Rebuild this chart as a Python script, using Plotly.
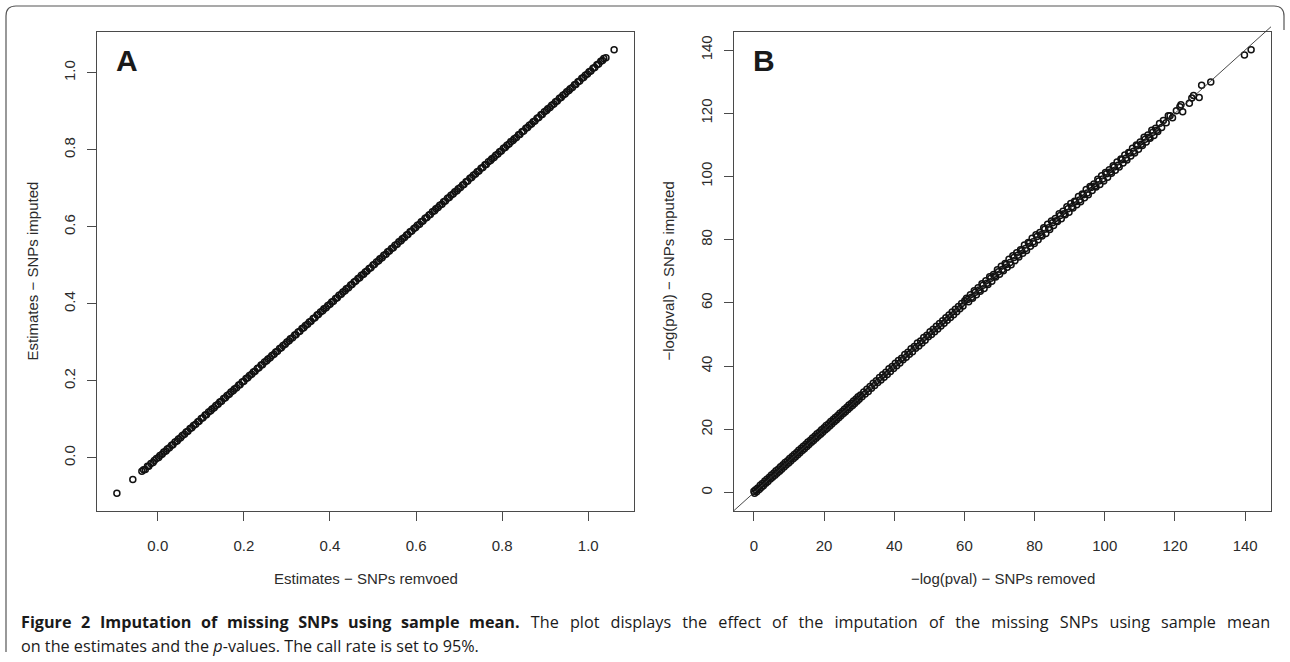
import plotly.graph_objects as go

W, H = 1290, 662

# ---------------- Data: panel A (estimates) ----------------
a_removed = [
    -0.095, -0.058, -0.037, -0.033, -0.029, -0.024, -0.021, -0.016, -0.011, -0.008,
    -0.003, 0.002, 0.005, 0.010, 0.014, 0.019, 0.022, 0.027, 0.032, 0.035,
    0.040, 0.045, 0.048, 0.053, 0.057, 0.062, 0.066, 0.070, 0.075, 0.079,
    0.083, 0.088, 0.093, 0.096, 0.101, 0.105, 0.110, 0.113, 0.118, 0.123,
    0.126, 0.131, 0.135, 0.140, 0.144, 0.148, 0.153, 0.157, 0.161, 0.166,
    0.170, 0.175, 0.178, 0.183, 0.188, 0.191, 0.196, 0.200, 0.205, 0.209,
    0.213, 0.218, 0.222, 0.226, 0.231, 0.235, 0.240, 0.243, 0.248, 0.253,
    0.256, 0.261, 0.265, 0.270, 0.274, 0.278, 0.283, 0.287, 0.291, 0.296,
    0.300, 0.305, 0.308, 0.313, 0.318, 0.321, 0.326, 0.330, 0.335, 0.339,
    0.343, 0.348, 0.352, 0.356, 0.361, 0.365, 0.370, 0.373, 0.378, 0.383,
    0.386, 0.391, 0.395, 0.400, 0.404, 0.408, 0.413, 0.417, 0.421, 0.426,
    0.430, 0.435, 0.438, 0.443, 0.448, 0.451, 0.456, 0.460, 0.465, 0.469,
    0.473, 0.478, 0.482, 0.486, 0.491, 0.495, 0.500, 0.503, 0.508, 0.513,
    0.516, 0.521, 0.525, 0.530, 0.534, 0.538, 0.543, 0.547, 0.551, 0.556,
    0.560, 0.565, 0.568, 0.573, 0.578, 0.581, 0.586, 0.590, 0.595, 0.599,
    0.603, 0.608, 0.612, 0.616, 0.621, 0.625, 0.630, 0.633, 0.638, 0.643,
    0.646, 0.651, 0.655, 0.660, 0.664, 0.668, 0.673, 0.677, 0.681, 0.686,
    0.690, 0.695, 0.698, 0.703, 0.708, 0.711, 0.716, 0.720, 0.725, 0.729,
    0.733, 0.738, 0.742, 0.746, 0.751, 0.755, 0.760, 0.763, 0.768, 0.773,
    0.776, 0.781, 0.785, 0.790, 0.794, 0.798, 0.803, 0.807, 0.811, 0.816,
    0.820, 0.825, 0.828, 0.833, 0.838, 0.841, 0.846, 0.850, 0.855, 0.859,
    0.863, 0.868, 0.872, 0.876, 0.881, 0.885, 0.890, 0.893, 0.898, 0.903,
    0.906, 0.911, 0.915, 0.920, 0.924, 0.928, 0.933, 0.937, 0.941, 0.946,
    0.950, 0.955, 0.958, 0.963, 0.968, 0.971, 0.976, 0.980, 0.985, 0.989,
    0.993, 0.998, 1.002, 1.006, 1.011, 1.015, 1.020, 1.024, 1.029, 1.033,
    1.036, 1.041, 1.060,
]
a_imputed = [
    -0.092, -0.056, -0.035, -0.031, -0.030, -0.022, -0.022, -0.015, -0.012, -0.007,
    -0.002, 0.001, 0.006, 0.009, 0.015, 0.018, 0.023, 0.026, 0.033, 0.034,
    0.041, 0.044, 0.049, 0.052, 0.058, 0.061, 0.067, 0.069, 0.076, 0.078,
    0.084, 0.087, 0.094, 0.095, 0.102, 0.104, 0.111, 0.112, 0.119, 0.122,
    0.127, 0.130, 0.136, 0.139, 0.145, 0.147, 0.154, 0.156, 0.162, 0.165,
    0.171, 0.174, 0.179, 0.182, 0.189, 0.190, 0.197, 0.199, 0.206, 0.208,
    0.214, 0.217, 0.223, 0.225, 0.232, 0.234, 0.241, 0.242, 0.249, 0.252,
    0.257, 0.260, 0.266, 0.269, 0.275, 0.277, 0.284, 0.286, 0.292, 0.295,
    0.301, 0.304, 0.309, 0.312, 0.319, 0.320, 0.327, 0.329, 0.336, 0.338,
    0.344, 0.347, 0.353, 0.355, 0.362, 0.364, 0.371, 0.372, 0.379, 0.382,
    0.387, 0.390, 0.396, 0.399, 0.405, 0.407, 0.414, 0.416, 0.422, 0.425,
    0.431, 0.434, 0.439, 0.442, 0.449, 0.450, 0.457, 0.459, 0.466, 0.468,
    0.474, 0.477, 0.483, 0.485, 0.492, 0.494, 0.501, 0.502, 0.509, 0.512,
    0.517, 0.520, 0.526, 0.529, 0.535, 0.537, 0.544, 0.546, 0.552, 0.555,
    0.561, 0.564, 0.569, 0.572, 0.579, 0.580, 0.587, 0.589, 0.596, 0.598,
    0.604, 0.607, 0.613, 0.615, 0.622, 0.624, 0.631, 0.632, 0.639, 0.642,
    0.647, 0.650, 0.656, 0.659, 0.665, 0.667, 0.674, 0.676, 0.682, 0.685,
    0.691, 0.694, 0.699, 0.702, 0.709, 0.710, 0.717, 0.719, 0.726, 0.728,
    0.734, 0.737, 0.743, 0.745, 0.752, 0.754, 0.761, 0.762, 0.769, 0.772,
    0.777, 0.780, 0.786, 0.789, 0.795, 0.797, 0.804, 0.806, 0.812, 0.815,
    0.821, 0.824, 0.829, 0.832, 0.839, 0.840, 0.847, 0.849, 0.856, 0.858,
    0.864, 0.867, 0.873, 0.875, 0.882, 0.884, 0.891, 0.892, 0.899, 0.902,
    0.907, 0.910, 0.916, 0.919, 0.925, 0.927, 0.934, 0.936, 0.942, 0.945,
    0.951, 0.954, 0.959, 0.962, 0.969, 0.970, 0.977, 0.979, 0.986, 0.988,
    0.994, 0.997, 1.003, 1.005, 1.012, 1.014, 1.021, 1.023, 1.030, 1.032,
    1.037, 1.039, 1.060,
]

# ---------------- Data: panel B (-log p-values) ----------------
b_removed = [
    0.0, 0.2, 0.5, 0.8, 1.1, 1.5, 1.8, 2.1, 2.4, 2.7,
    3.1, 3.4, 3.7, 4.0, 4.4, 4.7, 5.0, 5.3, 5.7, 6.0,
    6.3, 6.6, 7.0, 7.3, 7.6, 7.9, 8.3, 8.6, 8.9, 9.2,
    9.6, 9.9, 10.2, 10.5, 10.9, 11.2, 11.5, 11.8, 12.2, 12.5,
    12.8, 13.1, 13.5, 13.8, 14.1, 14.4, 14.8, 15.1, 15.4, 15.7,
    16.1, 16.4, 16.7, 17.0, 17.4, 17.7, 18.0, 18.3, 18.7, 19.0,
    19.3, 19.6, 20.0, 20.3, 20.6, 20.9, 21.3, 21.6, 21.9, 22.2,
    22.6, 22.9, 23.2, 23.5, 23.9, 24.2, 24.5, 24.8, 25.2, 25.5,
    25.8, 26.1, 26.5, 26.8, 27.1, 27.4, 27.8, 28.1, 28.4, 28.7,
    29.1, 29.4, 29.7, 30.0,
    30.4, 30.8, 31.3, 31.7, 32.2, 32.6, 33.1, 33.5, 34.0, 34.4,
    34.9, 35.3, 35.8, 36.2, 36.7, 37.1, 37.6, 38.0, 38.5, 38.9,
    39.4, 39.8, 40.3, 40.7, 41.2, 41.6, 42.1, 42.5, 43.0, 43.4,
    43.9, 44.3, 44.8, 45.2, 45.7, 46.1, 46.6, 47.0, 47.5, 47.9,
    48.4, 48.8, 49.3, 49.7, 50.2, 50.6, 51.1, 51.5, 52.0, 52.4,
    52.9, 53.3, 53.8, 54.2, 54.7, 55.1, 55.6, 56.0, 56.5, 56.9,
    57.4, 57.8, 58.3, 58.7, 59.2, 59.6, 60.1,
    60.6, 61.2, 61.7, 62.3, 62.8, 63.4, 63.9, 64.5, 65.0, 65.6,
    66.1, 66.7, 67.2, 67.8, 68.3, 68.9, 69.4, 70.0, 70.5, 71.1,
    71.6, 72.2, 72.7, 73.3, 73.8, 74.4, 74.9, 75.5, 76.0, 76.6,
    77.1, 77.7, 78.2, 78.8, 79.3, 79.9, 80.4, 81.0, 81.5, 82.1,
    82.6, 83.2, 83.7, 84.3, 84.8, 85.4, 85.9, 86.5, 87.0, 87.6,
    88.1, 88.7, 89.2, 89.8, 90.3, 90.9, 91.4, 92.0, 92.5, 93.1,
    93.6, 94.2, 94.7, 95.3, 95.8, 96.4, 96.9, 97.5, 98.0, 98.6,
    99.1, 99.7, 100.2, 100.8, 101.3, 101.9, 102.4, 103.0, 103.5, 104.1,
    104.6, 105.2, 105.7, 106.3, 106.8, 107.4, 107.9, 108.5, 109.0, 109.6,
    110.1, 110.7, 111.2, 111.8, 112.3, 112.9, 113.4, 114.0, 114.5, 115.1,
    115.6, 116.2,
    116.7, 117.5, 118.1, 118.6, 119.3, 120.4, 121.4, 121.7, 122.2, 124.1,
    124.8, 125.3, 126.9, 127.6, 130.2, 139.8, 141.7,
    60.9, 62.0, 63.1, 64.2, 65.3, 66.4, 67.5, 68.6, 69.7, 70.8,
    71.9, 73.0, 74.1, 75.2, 76.3, 77.4, 78.5, 79.6, 80.7, 81.8,
    82.9, 84.0, 85.1, 86.2, 87.3, 88.4, 89.5, 90.6, 91.7, 92.8,
    93.9, 95.0, 96.1, 97.2, 98.3, 99.4, 100.5, 101.6, 102.7, 103.8,
    104.9, 106.0, 107.1, 108.2, 109.3, 110.4, 111.5, 112.6, 113.7, 114.8,
]
b_imputed = [
    0.4, -0.2, 0.9, 0.3, 1.5, 1.0, 2.3, 1.6, 2.9, 2.2,
    3.6, 3.0, 4.2, 3.5, 4.9, 4.3, 5.6, 4.9, 6.2, 5.5,
    6.9, 6.1, 7.5, 6.8, 8.2, 7.4, 8.8, 8.1, 9.5, 8.7,
    10.1, 9.4, 10.8, 10.0, 11.4, 10.7, 12.1, 11.3, 12.7, 12.0,
    13.4, 12.6, 14.0, 13.3, 14.7, 13.9, 15.3, 14.6, 16.0, 15.2,
    16.6, 15.9, 17.3, 16.5, 17.9, 17.2, 18.6, 17.8, 19.2, 18.5,
    19.9, 19.1, 20.5, 19.8, 21.2, 20.4, 21.8, 21.1, 22.5, 21.7,
    23.1, 22.4, 23.8, 23.0, 24.4, 23.7, 25.1, 24.3, 25.7, 25.0,
    26.4, 25.6, 27.0, 26.3, 27.7, 26.9, 28.3, 27.6, 29.0, 28.2,
    29.6, 28.9, 30.3, 29.5,
    30.9, 30.3, 31.8, 31.2, 32.7, 32.0, 33.6, 33.0, 34.6, 33.9,
    35.4, 34.8, 36.4, 35.6, 37.3, 36.5, 38.1, 37.4, 39.2, 38.3,
    39.9, 39.3, 40.9, 40.1, 41.8, 41.0, 42.5, 42.0, 43.7, 42.8,
    44.4, 43.8, 45.5, 44.6, 46.2, 45.7, 47.3, 46.4, 48.0, 47.3,
    49.1, 48.2, 49.8, 49.3, 50.9, 50.0, 51.7, 50.9, 52.6, 51.8,
    53.5, 52.7, 54.4, 53.6, 55.3, 54.5, 56.2, 55.4, 57.1, 56.3,
    58.0, 57.2, 58.9, 58.2, 59.8, 59.0, 60.7,
    61.5, 60.4, 62.6, 61.5, 63.9, 62.6, 64.8, 63.7, 66.1, 64.6,
    67.0, 65.8, 68.3, 66.9, 69.0, 68.2, 70.5, 69.1, 71.6, 70.2,
    72.5, 71.3, 73.8, 72.1, 74.9, 73.4, 75.9, 74.5, 76.8, 75.7,
    78.3, 76.6, 79.1, 77.9, 80.5, 78.8, 81.6, 80.0, 82.3, 81.2,
    83.8, 82.0, 84.9, 83.2, 85.9, 84.5, 86.7, 85.8, 88.2, 86.6,
    89.0, 87.9, 90.4, 88.7, 91.5, 90.0, 92.2, 91.1, 93.7, 92.0,
    94.5, 93.3, 95.9, 94.2, 96.8, 95.6, 97.6, 96.7, 99.1, 97.5,
    100.2, 98.6, 101.3, 99.8, 102.1, 101.0, 103.4, 102.0, 104.6, 103.0,
    105.5, 104.3, 106.8, 105.2, 107.6, 106.5, 108.9, 107.4, 110.0, 108.6,
    110.9, 109.8, 112.4, 110.9, 113.1, 112.1, 114.6, 113.0, 115.3, 114.2,
    116.8, 115.5,
    117.7, 117.0, 119.2, 119.2, 118.6, 120.8, 122.1, 122.7, 120.5, 123.2,
    124.8, 125.6, 125.0, 128.9, 129.9, 138.4, 140.1,
    61.1, 61.8, 63.4, 64.1, 65.6, 66.2, 67.8, 68.5, 69.9, 70.6,
    72.2, 72.8, 74.4, 75.1, 76.5, 77.2, 78.9, 79.4, 81.0, 81.6,
    83.3, 83.8, 85.4, 86.0, 87.7, 88.2, 89.8, 90.4, 92.0, 92.6,
    94.2, 94.8, 96.5, 97.0, 98.6, 99.2, 100.9, 101.4, 103.0, 103.6,
    105.3, 105.8, 107.4, 108.0, 109.7, 110.2, 111.8, 112.4, 114.0, 114.6,
]

a_ticks = [0.0, 0.2, 0.4, 0.6, 0.8, 1.0]
a_ticklabels = ["0.0", "0.2", "0.4", "0.6", "0.8", "1.0"]
b_ticks = [0, 20, 40, 60, 80, 100, 120, 140]
b_ticklabels = ["0", "20", "40", "60", "80", "100", "120", "140"]

# ---------------- layout geometry ----------------
def px_x(p):
    return p / W

def px_y(p):
    return 1 - p / H

A_dom = [px_x(97), px_x(634)]
B_dom = [px_x(734), px_x(1271)]
Y_dom = [px_y(511), px_y(32)]

def r_range(vals):
    lo, hi = min(vals), max(vals)
    ext = 0.04 * (hi - lo)
    return [lo - ext, hi + ext]

a_xr = r_range(a_removed)
a_yr = r_range(a_imputed)
b_xr = r_range(b_removed)
b_yr = r_range(b_imputed)

AX_FONT = "Arial, Liberation Sans, Helvetica, sans-serif"
INK = "#2b2b2b"
LINE = "#4a4a4a"

marker = dict(symbol="circle-open", size=6, color="#111111", line=dict(width=1.5))

fig = go.Figure()
fig.add_trace(go.Scatter(x=a_removed, y=a_imputed, mode="markers", marker=marker,
                         xaxis="x", yaxis="y", showlegend=False, hoverinfo="skip"))
fig.add_trace(go.Scatter(x=b_removed, y=b_imputed, mode="markers", marker=marker,
                         xaxis="x2", yaxis="y2", showlegend=False, hoverinfo="skip"))

axis_common = dict(
    showline=True, mirror=True, linecolor=LINE, linewidth=1.2,
    ticks="outside", ticklen=9, tickwidth=1.1, tickcolor=LINE,
    showgrid=False, zeroline=False,
    tickfont=dict(family=AX_FONT, size=15, color=INK),
)

fig.update_layout(
    width=W, height=H,
    margin=dict(l=0, r=0, t=0, b=0),
    paper_bgcolor="white", plot_bgcolor="white",
    xaxis=dict(domain=A_dom, range=a_xr, anchor="y", tickvals=a_ticks,
               ticktext=a_ticklabels, ticklabelstandoff=12, **axis_common),
    yaxis=dict(domain=Y_dom, range=a_yr, anchor="x", tickvals=a_ticks,
               ticktext=a_ticklabels, tickangle=-90, ticklabelstandoff=6, **axis_common),
    xaxis2=dict(domain=B_dom, range=b_xr, anchor="y2", tickvals=b_ticks,
                ticktext=b_ticklabels, ticklabelstandoff=12, **axis_common),
    yaxis2=dict(domain=Y_dom, range=b_yr, anchor="x2", tickvals=b_ticks,
                ticktext=b_ticklabels, tickangle=-90, ticklabelstandoff=6, **axis_common),
)

# identity reference line in panel B (extends slightly beyond box at top, like R abline)
def to_paper(v, rng, dom):
    return dom[0] + (v - rng[0]) / (rng[1] - rng[0]) * (dom[1] - dom[0])

x0v, x1v = b_xr[0], b_xr[1]
fig.add_shape(type="line", xref="paper", yref="paper",
              x0=to_paper(x0v, b_xr, B_dom), y0=to_paper(x0v, b_yr, Y_dom),
              x1=to_paper(x1v, b_xr, B_dom), y1=to_paper(x1v, b_yr, Y_dom),
              line=dict(color="#333333", width=0.9), layer="above")

# outer rounded frame (open at the bottom)
r = 10
L, T, R_, Bt = 6, 6, 1284, 652
path = (f"M {px_x(L)} {px_y(Bt)} L {px_x(L)} {px_y(T + r)} "
        f"Q {px_x(L)} {px_y(T)} {px_x(L + r)} {px_y(T)} "
        f"L {px_x(R_ - r)} {px_y(T)} Q {px_x(R_)} {px_y(T)} {px_x(R_)} {px_y(T + r)} "
        f"L {px_x(R_)} {px_y(30)}")
fig.add_shape(type="path", xref="paper", yref="paper", path=path,
              line=dict(color="#555555", width=1.2))

# panel letters
for letter, xp in (("A", 127), ("B", 764)):
    fig.add_annotation(x=px_x(xp), y=px_y(60), xref="paper", yref="paper",
                       text=f"<b>{letter}</b>", showarrow=False,
                       font=dict(family=AX_FONT, size=30, color="#1a1a1a"),
                       xanchor="center", yanchor="middle")

# axis titles
titles = [
    ("Estimates \u2212 SNPs remvoed", 365.5, 578, 0),
    ("\u2212log(pval) \u2212 SNPs removed", 1002.5, 578, 0),
    ("Estimates \u2212 SNPs imputed", 32, 271.5, -90),
    ("\u2212log(pval) \u2212 SNPs imputed", 668, 271.5, -90),
]
for txt, xp, yp, ang in titles:
    fig.add_annotation(x=px_x(xp), y=px_y(yp), xref="paper", yref="paper",
                       text=txt, showarrow=False, textangle=ang,
                       font=dict(family=AX_FONT, size=15, color=INK),
                       xanchor="center", yanchor="middle")

# caption (first line justified: widen the word gaps)
CAP_FONT = "Open Sans, Noto Sans, sans-serif"
gap_b = " \u2009\u2009"
gap_r = " \u2009\u2009\u200a"
cap1_bold = "Figure 2 Imputation of missing SNPs using sample mean."
cap1_rest = ("The plot displays the effect of the imputation of the missing SNPs "
             "using sample mean")
cap1 = "<b>" + cap1_bold.replace(" ", gap_b) + "</b>" + gap_r + cap1_rest.replace(" ", gap_r)
cap2 = "on the estimates and the <i>p</i>-values. The call rate is set to 95%."
for txt, yp in ((cap1, 622), (cap2, 646)):
    fig.add_annotation(x=px_x(19), y=px_y(yp), xref="paper", yref="paper",
                       text=txt, showarrow=False, align="left",
                       font=dict(family=CAP_FONT, size=16.2, color="#1a1a1a"),
                       xanchor="left", yanchor="middle")

fig.write_html("out.html")
